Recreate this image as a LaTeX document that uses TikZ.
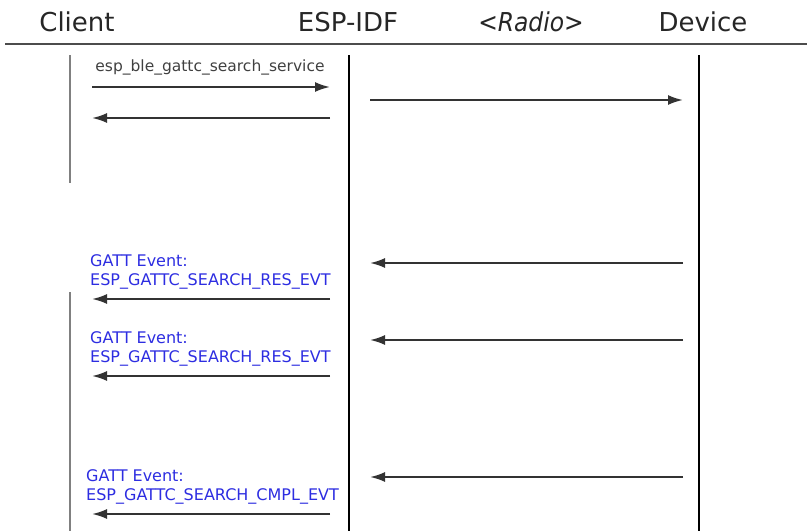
\documentclass[tikz,border=0pt]{standalone}
\usepackage{fontspec}
\setmainfont{DejaVu Sans}
\usetikzlibrary{arrows.meta}
\definecolor{evblue}{RGB}{45,45,225}
\begin{document}
\begin{tikzpicture}[x=1pt,y=-1pt,
  head/.style={font=\fontsize{26}{28}\selectfont, text=black!85},
  life/.style={line width=1.5pt, black},
  clife/.style={line width=2.6pt, black!50},
  msg/.style={line width=2pt, black!80, -{Latex[length=15pt,width=10pt]}},
  call/.style={font=\fontsize{15.5}{17}\selectfont, text=black!75, inner sep=0pt},
  evt/.style={font=\fontsize{16}{19}\selectfont, text=evblue, align=left, inner sep=0pt, anchor=south west}]
\useasboundingbox (0,0) rectangle (807,531);
% header
\node[head] (client) at (77,22) {Client};
\node[head] (idf) at (348,22) {ESP-IDF};
\node[head, xscale=0.9] (radio) at (531,22) {\itshape <Radio>};
\node[head] (device) at (703,22) {Device};
\draw[line width=2.6pt, black!70] (5,44) -- (807,44);
% lifelines
\coordinate (c1) at (70,55); \coordinate (c2) at (70,183);
\coordinate (c3) at (70,292); \coordinate (c4) at (70,531);
\coordinate (i1) at (349,55); \coordinate (i2) at (349,531);
\coordinate (d1) at (699,55); \coordinate (d2) at (699,531);
\draw[clife] (c1) -- (c2);
\draw[clife] (c3) -- (c4);
\draw[life] (i1) -- (i2);
\draw[life] (d1) -- (d2);
% search request
\coordinate (a1) at (92,87); \coordinate (b1) at (330,87);
\coordinate (a2) at (92,118); \coordinate (b2) at (330,118);
\coordinate (r1) at (370,100); \coordinate (s1) at (683,100);
\node[call] (search) at (210,67) {esp\_ble\_gattc\_search\_service};
\draw[msg] (a1) -- (b1);
\draw[msg] (b2) -- (a2);
\draw[msg] (r1) -- (s1);
% search results
\foreach \n/\ry/\ey/\ex/\txt in {res1/263/299/90/RES, res2/340/376/90/RES, cmpl/477/514/86/CMPL}{
  \coordinate (\n-r) at (370,\ry); \coordinate (\n-s) at (683,\ry);
  \coordinate (\n-a) at (92,\ey); \coordinate (\n-b) at (330,\ey);
  \draw[msg] (\n-s) -- (\n-r);
  \draw[msg] (\n-b) -- (\n-a);
  \node[evt] (\n-lbl) at (\ex,\ey-10) {GATT Event:\\ESP\_GATTC\_SEARCH\_\txt\_EVT};
}
\end{tikzpicture}
\end{document}
